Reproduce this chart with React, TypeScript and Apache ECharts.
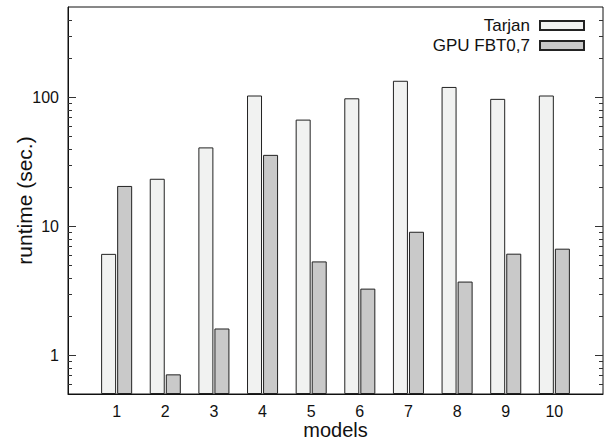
import React, { useEffect, useRef } from "react";
import * as echarts from "echarts";

const categories = ["1", "2", "3", "4", "5", "6", "7", "8", "9", "10"];
const tarjan = [6.1, 23.3, 40.8, 103, 67, 98, 134, 120, 97, 103];
const gpuFbt = [20.5, 0.71, 1.61, 35.7, 5.33, 3.28, 9.05, 3.72, 6.12, 6.69];
const majorTicks = [1, 10, 100];
const minorTicks = [0.6, 0.7, 0.8, 0.9, 2, 3, 4, 5, 6, 7, 8, 9, 20, 30, 40, 50, 60, 70, 80, 90, 200, 300, 400];
const yMin = 0.5;
const yMax = 500;

const FONT = "Liberation Sans, Arial, Helvetica, sans-serif";

export default function App() {
  const ref = useRef<HTMLDivElement>(null);
  useEffect(() => {
    if (!ref.current) return;
    const chart = echarts.init(ref.current, undefined, { renderer: "svg" });
    const xData = ["", ...categories, ""];
    const lastIdx = xData.length - 1;
    const pad = (arr: number[]) => [null, ...arr, null];
    const tickData = [
      ...majorTicks.map((v) => [0, v, 8]),
      ...minorTicks.map((v) => [0, v, 4]),
    ];
    chart.setOption({
      animation: false,
      textStyle: { fontFamily: FONT },
      grid: {
        left: 68,
        top: 7,
        right: 3,
        bottom: 49,
        show: true,
        borderColor: "#111",
        borderWidth: 1,
        outerBoundsMode: "none",
        containLabel: false,
      },
      legend: {
        orient: "vertical",
        align: "right",
        right: 21,
        top: 16,
        itemWidth: 44,
        itemHeight: 9,
        itemGap: 1,
        padding: 0,
        icon: "rect",
        textStyle: { fontSize: 17, lineHeight: 19, color: "#111", fontFamily: FONT, padding: [0, 5, 0, 0] },
        data: ["Tarjan", "GPU FBT0,7"],
      },
      xAxis: {
        type: "category",
        data: xData,
        boundaryGap: false,
        name: "models",
        nameLocation: "middle",
        nameGap: 27,
        nameMoveOverlap: false,
        nameTextStyle: { fontSize: 20, lineHeight: 18, color: "#111", fontFamily: FONT },
        axisLine: { show: true, lineStyle: { color: "#111" } },
        axisTick: { show: false },
        axisLabel: { fontSize: 16, color: "#111", margin: 9, interval: 0 },
        splitLine: { show: false },
      },
      yAxis: {
        type: "log",
        logBase: 10,
        min: yMin,
        max: yMax,
        startValue: yMin,
        name: "runtime (sec.)",
        nameLocation: "middle",
        nameGap: 33,
        nameMoveOverlap: false,
        nameTextStyle: { fontSize: 21, color: "#111", fontFamily: FONT },
        axisLine: { show: true, lineStyle: { color: "#111" } },
        axisTick: { show: false },
        splitLine: { show: false },
        axisLabel: {
          fontSize: 16,
          color: "#111",
          margin: 9,
          showMinLabel: false,
          showMaxLabel: false,
          formatter: (v: number) => (majorTicks.some((t) => Math.abs(t - v) < 1e-6) ? String(v) : ""),
        },
      },
      series: [
        {
          name: "Tarjan",
          type: "bar",
          data: pad(tarjan),
          barWidth: 15,
          barGap: "7%",
          itemStyle: { color: "#f1f2f1", borderColor: "#222", borderWidth: 1 },
        },
        {
          name: "GPU FBT0,7",
          type: "bar",
          data: pad(gpuFbt),
          barWidth: 15,
          barGap: "7%",
          itemStyle: { color: "#c9c9c9", borderColor: "#222", borderWidth: 1 },
        },
        {
          name: "ticks",
          type: "custom",
          silent: true,
          z: 10,
          data: tickData,
          renderItem: (params: any, api: any) => {
            const v = api.value(1);
            const len = api.value(2);
            const pl = api.coord([0, v]);
            const pr = api.coord([lastIdx, v]);
            const y = Math.round(pl[1]) + 0.5;
            const style = { stroke: "#333", lineWidth: 1 };
            return {
              type: "group",
              children: [
                { type: "line", shape: { x1: pl[0], y1: y, x2: pl[0] + len, y2: y }, style },
                { type: "line", shape: { x1: pr[0], y1: y, x2: pr[0] - len, y2: y }, style },
              ],
            };
          },
        },
      ],
    });

    return () => chart.dispose();
  }, []);
  return (
    <div
      ref={ref}
      style={{ position: "fixed", left: 0, top: 0, width: 606, height: 443, background: "#fff" }}
    />
  );
}
